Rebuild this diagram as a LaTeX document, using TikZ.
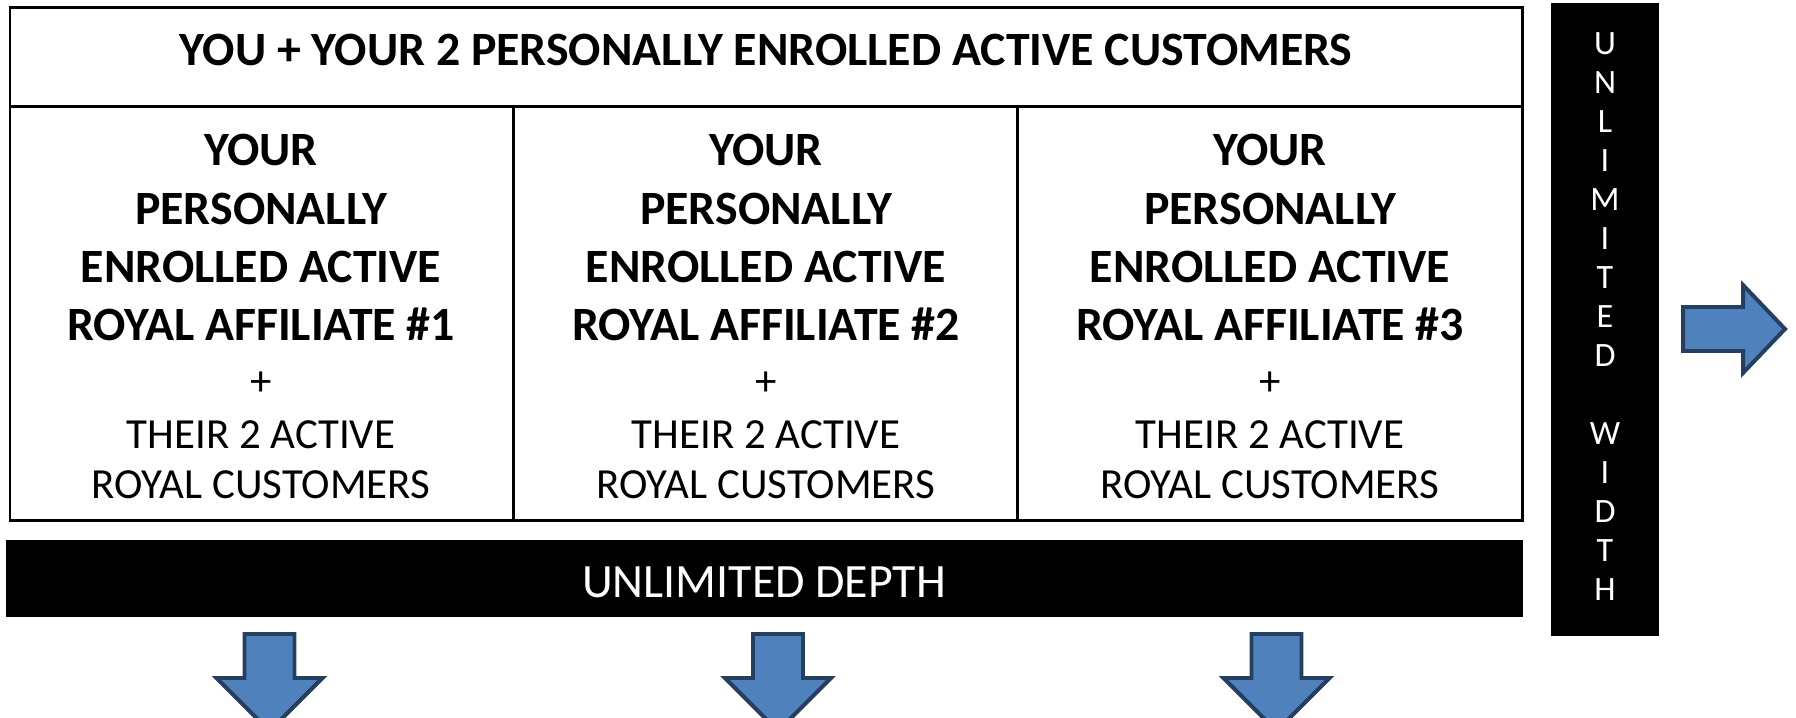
\documentclass[tikz,border=0pt]{standalone}
\usepackage{fontspec}
\setmainfont{Carlito}
\definecolor{arrowblue}{HTML}{4F81BD}
\definecolor{arrowedge}{HTML}{243F60}

\tikzset{
  headtxt/.style={font=\fontsize{13.6}{16}\selectfont\bfseries},
  boldtxt/.style={font=\fontsize{13.6}{16}\selectfont\bfseries},
  plaintxt/.style={font=\fontsize{12.2}{15}\selectfont},
  bartxt/.style={text=white, font=\fontsize{13.6}{16}\selectfont},
  lettertxt/.style={text=white, font=\fontsize{9.7}{11}\selectfont},
  blockarrow/.style={fill=arrowblue, draw=arrowedge, line width=1.13pt, line join=miter}
}

\begin{document}
\begin{tikzpicture}[x=0.01cm, y=0.01cm, inner sep=0pt]
\useasboundingbox (0,0) rectangle (1796,718);
\clip (0,0) rectangle (1796,718);

% table frame
\draw[line width=0.85pt] (10,710) rectangle (1522,197.5);
\draw[line width=0.85pt] (10,611) -- (1522,611);
\draw[line width=0.85pt] (513.5,611) -- (513.5,197.5);
\draw[line width=0.85pt] (1017.5,611) -- (1017.5,197.5);

\node[headtxt] (you) at (766,668) {YOU + YOUR 2 PERSONALLY ENROLLED ACTIVE CUSTOMERS};

% the three affiliate columns
\foreach \c/\cx in {1/261,2/766,3/1270}{
  \node[boldtxt] (aff\c-1) at (\cx,567.5) {YOUR};
  \node[boldtxt] (aff\c-2) at (\cx,509.5) {PERSONALLY};
  \node[boldtxt] (aff\c-3) at (\cx,451) {ENROLLED ACTIVE};
  \node[boldtxt] (aff\c-4) at (\cx,393.5) {ROYAL AFFILIATE \#\c};
  \node[plaintxt] (aff\c-5) at (\cx,334) {+};
  \node[plaintxt] (aff\c-6) at (\cx,283.5) {THEIR 2 ACTIVE};
  \node[plaintxt] (aff\c-7) at (\cx,233) {ROYAL CUSTOMERS};
}

% depth bar
\fill[black] (6,101) rectangle (1523,178);
\node[bartxt] (depth) at (764,136) {UNLIMITED DEPTH};

% width bar
\fill[black] (1551,82) rectangle (1659,714.5);
\foreach \ch [count=\i from 0] in {U,N,L,I,M,I,T,E,D}
  \node[lettertxt] (unl\i) at (1605,{674-39*\i}) {\ch};
\foreach \ch [count=\i from 10] in {W,I,D,T,H}
  \node[lettertxt] (wid\i) at (1605,{674-39*\i}) {\ch};

% arrows
\draw[blockarrow] (1683,411) -- (1743,411) -- (1743,433) -- (1785,389)
  -- (1743,345) -- (1743,367) -- (1683,367) -- cycle;
\foreach \ax in {269.5,778,1276.5}
  \draw[blockarrow] ({\ax-25},84) -- ({\ax+25},84) -- ({\ax+25},40) -- ({\ax+53},40)
    -- (\ax,-13) -- ({\ax-53},40) -- ({\ax-25},40) -- cycle;

\end{tikzpicture}
\end{document}
